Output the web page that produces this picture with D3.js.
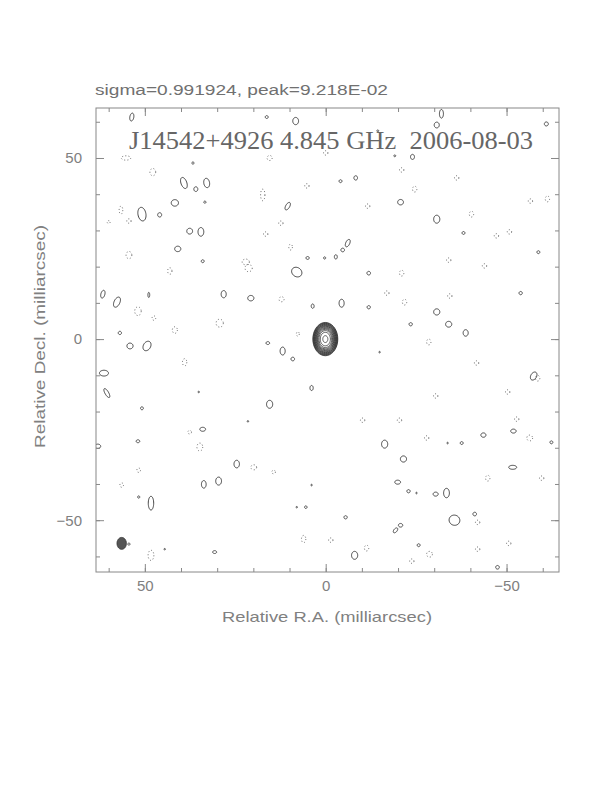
<!DOCTYPE html>
<html>
<head>
<meta charset="utf-8">
<script src="https://cdn.jsdelivr.net/npm/d3@7"></script>
<style>
  body { margin: 0; background: #fff; }
</style>
</head>
<body>
<svg id="chart" width="612" height="792"></svg>
<script>
// map header texts
const headerText = "sigma=0.991924, peak=9.218E-02";
const titleText = "J14542+4926 4.845 GHz  2006-08-03";
const xLabel = "Relative R.A. (milliarcsec)";
const yLabel = "Relative Decl. (milliarcsec)";

// axis ticks (mas)
const minorTicks = [60, 50, 40, 30, 20, 10, 0, -10, -20, -30, -40, -50, -60];
const majorTicks = [50, 0, -50];

// central component: contour semi-axes [ra-axis, dec-axis] in mas
const coreCenter = [0.1, 0.0];
const coreLevels = [
  [3.45, 4.6], [3.35, 4.47], [3.25, 4.34], [3.14, 4.2], [3.03, 4.05], [2.92, 3.9],
  [2.8, 3.74], [2.67, 3.57], [2.53, 3.38], [2.37, 3.17], [2.2, 2.94], [2.0, 2.68],
  [1.75, 2.35], [1.4, 1.87], [0.7, 0.95]
];

// restoring beam [ra, dec, a, b]
const beam = [56.4, -56.4, 1.3, 1.65];

// positive noise contours [ra, dec, a, b, tilt(deg)]
const posBlobs = [
  [53.6, 61.3, 0.55, 1.1, 10], [16.3, 61.3, 0.4, 0.4, 0], [8.3, 60.2, 0.8, 1.0, 0],
  [-30.7, 59.1, 0.7, 0.8, 0], [-32.0, 62.2, 0.55, 1.2, 0], [-61.0, 59.4, 0.55, 0.55, 0],
  [-14.4, 57.5, 0.25, 0.25, 0], [-24.0, 50.3, 0.55, 0.7, 0], [-19.1, 50.6, 0.25, 0.25, 0],
  [39.2, 43.1, 0.8, 1.6, -20], [35.9, 41.4, 0.55, 0.65, 0], [32.9, 43.1, 0.8, 1.3, -10],
  [36.7, 48.6, 0.3, 0.3, 0], [41.7, 37.6, 1.0, 0.9, 0], [50.8, 34.5, 1.1, 1.9, -10],
  [45.9, 34.3, 0.55, 0.6, 0], [33.4, 37.8, 0.3, 0.3, 0], [37.6, 29.8, 0.8, 0.8, 0],
  [34.5, 29.6, 0.8, 1.2, 0], [40.9, 24.9, 0.85, 0.75, 0], [34.0, 21.5, 0.4, 0.4, 0],
  [10.5, 36.7, 0.55, 1.15, 30], [5.0, 22.4, 0.45, 0.4, 0], [8.0, 18.5, 1.5, 1.25, 35],
  [28.2, 12.4, 0.7, 1.0, 0], [20.7, 11.3, 0.85, 0.75, 0], [57.7, 10.2, 0.8, 1.5, 25],
  [61.6, 12.4, 0.55, 1.1, 15], [48.9, 12.2, 0.25, 0.7, 0], [3.6, 9.1, 0.4, 0.6, 0],
  [56.9, 1.7, 0.45, 0.45, 0], [54.1, -1.9, 0.85, 0.8, 0], [49.4, -1.9, 1.0, 1.4, 30],
  [16.0, -1.1, 0.5, 0.4, 0], [11.9, -3.3, 0.7, 1.1, 0], [9.1, -5.5, 0.5, 0.5, 0],
  [61.3, -9.4, 1.25, 0.8, 0], [60.5, -14.9, 0.5, 1.4, -30], [50.8, -19.1, 0.4, 0.4, 0],
  [3.9, -13.5, 0.45, 0.7, 0], [15.5, -18.0, 0.85, 1.1, 0], [63.0, -29.6, 0.8, 0.6, 0],
  [51.9, -28.2, 0.5, 0.4, 0], [34.0, -24.9, 0.8, 0.55, 0], [24.6, -34.5, 0.75, 1.05, 0],
  [33.7, -40.1, 0.65, 1.05, 0], [29.6, -39.2, 0.8, 1.1, 0], [48.3, -45.3, 0.75, 1.9, 0],
  [51.7, -43.6, 0.3, 0.3, 0], [30.7, -58.8, 0.55, 0.4, 0], [5.5, -46.4, 0.35, 0.35, 0],
  [54.4, -56.6, 0.3, 0.3, 0], [35.1, -14.6, 0.2, 0.2, 0], [21.5, -22.7, 0.2, 0.2, 0],
  [3.9, -40.3, 0.2, 0.2, 0], [8.0, -46.4, 0.2, 0.2, 0], [44.5, -58.0, 0.2, 0.2, 0],
  [-4.1, 43.6, 0.4, 0.4, 0], [-8.3, 44.5, 0.5, 0.6, 0], [-20.7, 37.8, 0.8, 0.75, 0],
  [-30.7, 33.1, 0.85, 1.1, 0], [-38.1, 29.3, 0.4, 0.4, 0], [-6.1, 26.5, 0.55, 1.1, 25],
  [-4.7, 24.6, 0.5, 0.5, 0], [-2.8, 22.7, 0.4, 0.6, 0], [0.3, 22.4, 0.3, 0.3, 0],
  [-11.9, 18.2, 0.5, 0.5, 0], [-4.4, 9.9, 0.7, 1.1, 0], [-11.9, 8.8, 0.45, 0.45, 0],
  [-23.5, 4.1, 0.45, 0.45, 0], [-30.7, 7.5, 0.85, 0.85, 0], [-34.0, 4.1, 0.85, 0.8, 0],
  [-38.7, 1.7, 0.7, 0.9, 0], [-53.9, 12.7, 0.45, 0.45, 0], [-58.8, 24.0, 0.4, 0.4, 0],
  [-57.5, -10.2, 0.8, 1.2, 30], [-14.9, -3.6, 0.2, 0.2, 0], [-16.3, -29.0, 0.85, 1.1, 0],
  [-21.5, -33.1, 0.85, 0.85, 0], [-33.7, -28.7, 0.2, 0.2, 0], [-37.6, -28.7, 0.4, 0.4, 0],
  [-43.6, -26.5, 0.7, 0.6, 0], [-51.9, -25.4, 0.75, 0.55, 0], [-62.4, -28.5, 0.4, 0.4, 0],
  [-51.7, -35.4, 1.1, 0.55, 0], [-19.9, -39.5, 0.8, 0.55, 0], [-22.9, -42.0, 0.45, 0.45, 0],
  [-25.1, -42.5, 0.2, 0.2, 0], [-30.4, -42.8, 0.7, 0.55, 0], [-33.4, -42.5, 0.8, 1.3, 0],
  [-35.6, -50.0, 1.5, 1.4, 20], [-41.2, -48.3, 0.5, 0.5, 0], [-5.5, -49.2, 0.45, 0.45, 0],
  [-20.7, -51.4, 0.6, 0.5, 0], [-19.3, -52.8, 0.45, 0.8, 40], [-8.0, -59.7, 0.85, 1.1, 0],
  [-25.7, -56.9, 0.4, 0.4, 0], [-47.5, -63.0, 0.5, 0.5, 0]
];

// negative noise contours [ra, dec, a, b, tilt(deg)]
const negBlobs = [
  [55.2, 50.0, 1.3, 0.6, 0], [47.8, 46.1, 0.8, 1.0, 0], [56.6, 35.6, 0.5, 1.1, 0],
  [54.4, 32.6, 0.6, 0.6, 0], [54.4, 23.2, 0.8, 1.0, 0], [43.1, 18.8, 0.6, 0.9, 0],
  [22.1, 21.3, 1.0, 0.8, 0], [21.3, 19.6, 1.0, 1.0, 0], [17.4, 39.8, 0.6, 1.6, 0],
  [15.5, 50.0, 0.7, 0.7, 0], [12.4, 32.0, 0.6, 0.6, 0], [16.6, 29.0, 0.6, 0.6, 0],
  [9.7, 25.4, 0.5, 0.8, 0], [51.9, 7.7, 0.9, 1.2, 0], [47.5, 5.8, 0.5, 0.6, 0],
  [41.7, 2.5, 0.7, 0.9, 0], [29.3, 4.4, 1.0, 1.1, 0], [12.2, 11.0, 0.7, 0.7, 0],
  [7.7, 1.4, 0.4, 0.6, 0], [60.0, 32.3, 0.4, 0.4, 0], [39.0, -6.4, 0.6, 1.0, 0],
  [34.8, -29.8, 0.8, 1.1, 0], [51.7, -36.2, 0.5, 0.6, 0], [56.4, -40.3, 0.5, 0.6, 0],
  [48.3, -59.7, 0.8, 1.4, 0], [14.4, -36.7, 0.5, 0.5, 0], [19.9, -35.4, 0.8, 0.7, 0],
  [6.1, -55.2, 0.6, 1.0, 0], [37.6, -25.7, 0.5, 0.5, 0], [0.0, 51.4, 0.6, 0.6, 0],
  [5.2, 42.3, 0.6, 0.6, 0], [-11.6, 36.7, 0.6, 0.6, 0], [-21.0, 46.7, 0.6, 0.6, 0],
  [-24.6, 41.4, 0.6, 0.8, 0], [-36.2, 44.5, 0.6, 0.6, 0], [-40.3, 34.5, 0.6, 0.8, 0],
  [-47.2, 28.5, 0.6, 0.6, 0], [-50.8, 29.6, 0.6, 0.6, 0], [-56.6, 38.1, 0.6, 0.6, 0],
  [-61.3, 38.7, 0.6, 0.8, 0], [-21.0, 18.2, 0.6, 0.8, 0], [-21.8, 10.2, 0.6, 0.8, 0],
  [-16.9, 12.7, 0.6, 0.6, 0], [-34.3, 11.9, 0.6, 0.6, 0], [-43.9, 20.2, 0.6, 0.6, 0],
  [-34.0, 21.8, 0.6, 0.6, 0], [-28.5, -0.8, 0.6, 0.8, 0], [-41.7, -6.6, 0.6, 0.6, 0],
  [-58.6, -10.8, 0.6, 0.8, 0], [-50.3, -14.6, 0.6, 0.6, 0], [-56.4, -27.3, 0.8, 0.8, 0],
  [-44.8, -38.4, 0.6, 0.8, 0], [-59.7, -38.4, 0.6, 0.6, 0], [-52.8, -22.1, 0.6, 0.6, 0],
  [-30.4, -15.7, 0.6, 0.6, 0], [-20.4, -22.4, 0.6, 0.6, 0], [-10.2, -22.4, 0.6, 0.6, 0],
  [-27.9, -27.3, 0.6, 0.6, 0], [-28.7, -59.4, 0.8, 0.8, 0], [-23.8, -61.3, 0.6, 0.6, 0],
  [-42.0, -58.0, 0.6, 0.6, 0], [-42.0, -50.6, 0.6, 0.6, 0], [-50.6, -56.4, 0.6, 0.6, 0],
  [-1.4, -55.5, 0.6, 0.6, 0], [-11.3, -57.7, 0.6, 0.8, 0]
];

const margin = { top: 108, left: 96 };
const width = 463, height = 464;
const sansFont = "Liberation Sans, DejaVu Sans, sans-serif";

const svg = d3.select("#chart");

const x = d3.scaleLinear().domain([63.5, -64.5]).range([0, width]);
const y = d3.scaleLinear().domain([-64.3, 63.8]).range([height, 0]);
const k = x(0) - x(1); // px per mas

const g = svg.append("g")
  .attr("transform", "translate(" + margin.left + "," + margin.top + ")");

g.append("clipPath").attr("id", "clip")
  .append("rect").attr("width", width).attr("height", height);

// ellipse outline as a closed path
function ellipsePath(ra, dec, a, b, tilt) {
  const phi = tilt * Math.PI / 180;
  const cx = x(ra), cy = y(dec);
  const pts = d3.range(0, 2 * Math.PI, Math.PI / 18).map(function (t) {
    const ex = a * k * Math.cos(t), ey = b * k * Math.sin(t);
    return [cx + ex * Math.cos(phi) - ey * Math.sin(phi),
            cy + ex * Math.sin(phi) + ey * Math.cos(phi)];
  });
  return d3.line().curve(d3.curveLinearClosed)(pts);
}

const marks = g.append("g").attr("clip-path", "url(#clip)");

// negative contours
marks.selectAll(".neg")
  .data(negBlobs)
  .enter()
  .append("path")
  .attr("class", "neg")
  .attr("d", function (d) { return ellipsePath(d[0], d[1], d[2], d[3], d[4]); })
  .attr("fill", "none")
  .attr("stroke", "#555")
  .attr("stroke-width", 0.9)
  .attr("stroke-dasharray", "1,2.2");

// positive contours
marks.selectAll(".pos")
  .data(posBlobs)
  .enter()
  .append("path")
  .attr("class", "pos")
  .attr("d", function (d) { return ellipsePath(d[0], d[1], d[2], d[3], d[4]); })
  .attr("fill", "none")
  .attr("stroke", "#333")
  .attr("stroke-width", 0.9);

// core
marks.selectAll(".core")
  .data(coreLevels)
  .enter()
  .append("path")
  .attr("class", "core")
  .attr("d", function (d) { return ellipsePath(coreCenter[0], coreCenter[1], d[0], d[1], 0); })
  .attr("fill", "none")
  .attr("stroke", "#333")
  .attr("stroke-width", 0.8);

// beam
marks.append("path")
  .attr("d", ellipsePath(beam[0], beam[1], beam[2], beam[3], 0))
  .attr("fill", "#555")
  .attr("stroke", "#333")
  .attr("stroke-width", 0.8);

// axes: inward ticks on all four sides
const axisColor = "#888";
function styleAxis(sel) {
  sel.select(".domain").remove();
  sel.selectAll(".tick line").attr("stroke", axisColor);
  sel.selectAll(".tick text")
    .attr("fill", "#808080")
    .style("font-size", "15px")
    .style("font-family", sansFont);
}

g.append("g").attr("transform", "translate(0," + height + ")")
  .call(d3.axisBottom(x).tickValues(minorTicks).tickSize(-4).tickFormat(""))
  .call(styleAxis);
g.append("g").attr("transform", "translate(0," + height + ")")
  .call(d3.axisBottom(x).tickValues(majorTicks).tickSize(-8).tickPadding(8))
  .call(styleAxis);
g.append("g")
  .call(d3.axisTop(x).tickValues(minorTicks).tickSize(-4).tickFormat(""))
  .call(styleAxis);
g.append("g")
  .call(d3.axisTop(x).tickValues(majorTicks).tickSize(-8).tickFormat(""))
  .call(styleAxis);

g.append("g")
  .call(d3.axisLeft(y).tickValues(minorTicks).tickSize(-4).tickFormat(""))
  .call(styleAxis);
g.append("g")
  .call(d3.axisLeft(y).tickValues(majorTicks).tickSize(-8).tickPadding(14))
  .call(styleAxis);
g.append("g").attr("transform", "translate(" + width + ",0)")
  .call(d3.axisRight(y).tickValues(minorTicks).tickSize(-4).tickFormat(""))
  .call(styleAxis);
g.append("g").attr("transform", "translate(" + width + ",0)")
  .call(d3.axisRight(y).tickValues(majorTicks).tickSize(-8).tickFormat(""))
  .call(styleAxis);

// frame
g.append("rect")
  .attr("width", width)
  .attr("height", height)
  .attr("fill", "none")
  .attr("stroke", axisColor)
  .attr("stroke-width", 1);

// labels
svg.append("text")
  .attr("x", 95).attr("y", 95)
  .style("font-family", sansFont)
  .style("font-size", "14px")
  .attr("fill", "#707070")
  .attr("textLength", 293)
  .attr("lengthAdjust", "spacingAndGlyphs")
  .text(headerText);

svg.append("text")
  .attr("x", 129).attr("y", 149)
  .style("font-family", "Liberation Serif, DejaVu Serif, serif")
  .style("font-size", "25px")
  .style("white-space", "pre")
  .attr("fill", "#666")
  .attr("textLength", 404)
  .attr("lengthAdjust", "spacingAndGlyphs")
  .text(titleText);

svg.append("text")
  .attr("x", 222).attr("y", 622)
  .style("font-family", sansFont)
  .style("font-size", "15px")
  .attr("fill", "#808080")
  .attr("textLength", 210)
  .attr("lengthAdjust", "spacingAndGlyphs")
  .text(xLabel);

svg.append("text")
  .attr("transform", "translate(45,448) rotate(-90)")
  .style("font-family", sansFont)
  .style("font-size", "15px")
  .attr("fill", "#808080")
  .attr("textLength", 223)
  .attr("lengthAdjust", "spacingAndGlyphs")
  .text(yLabel);
</script>
</body>
</html>
